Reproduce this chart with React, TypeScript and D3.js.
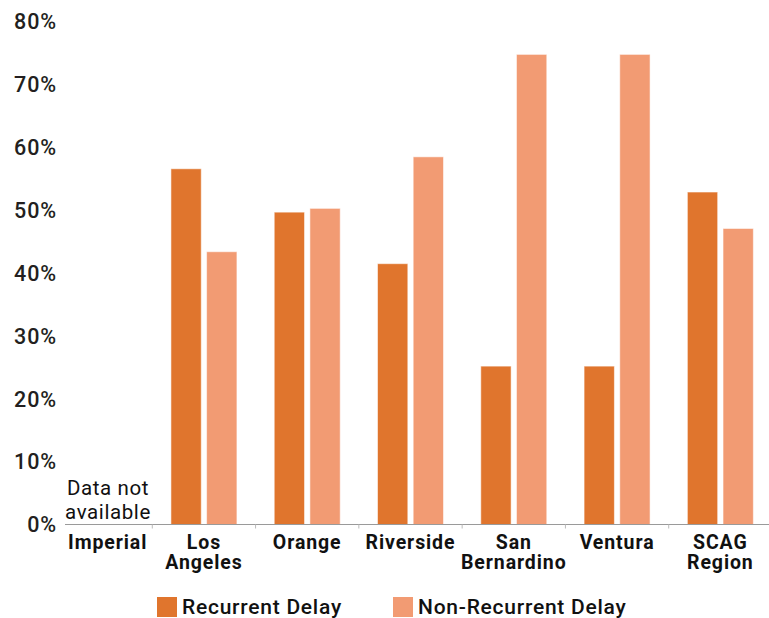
import React from "react";
import * as d3 from "d3";

const categories = ["Imperial", "Los Angeles", "Orange", "Riverside", "San Bernardino", "Ventura", "SCAG Region"];
const categoryLines = [["Imperial"], ["Los", "Angeles"], ["Orange"], ["Riverside"], ["San", "Bernardino"], ["Ventura"], ["SCAG", "Region"]];
const recurrent: (number | null)[] = [null, 56.6, 49.7, 41.5, 25.2, 25.2, 52.9];
const nonRecurrent: (number | null)[] = [null, 43.4, 50.3, 58.5, 74.8, 74.8, 47.1];
const yTicks = [0, 10, 20, 30, 40, 50, 60, 70, 80];
const seriesNames = ["Recurrent Delay", "Non-Recurrent Delay"];
const colors = ["#E0752D", "#F29B73"];

const W = 769;
const H = 618;
const FONT = "Roboto, 'DejaVu Sans', sans-serif";

export default function App() {
  const x = d3.scaleBand<string>().domain(categories).range([49, 772]).padding(0);
  const y = d3.scaleLinear().domain([0, 80]).range([524.5, 21.7]);
  const sub = d3.scaleBand<number>().domain([0, 1]).range([0, 66]).paddingInner(0.15);
  const series = [recurrent, nonRecurrent];

  return (
    <svg width={W} height={H} style={{ position: "absolute", left: 0, top: 0, display: "block" }}>
      <rect width={W} height={H} fill="#fff" />
      {yTicks.map((t) => (
        <text key={t} x={57} y={y(t)} dy="0.36em" textAnchor="end" fontFamily={FONT} fontWeight={500} fontSize={21.5} letterSpacing={0.9} fill="#231f20">
          {t}%
        </text>
      ))}
      {categories.map((c, i) => {
        const cx = (x(c) as number) + x.bandwidth() / 2;
        return series.map((s, si) => {
          const v = s[i];
          if (v == null) return null;
          const bx = cx - 33 + (sub(si) as number);
          return (
            <rect key={c + si} x={bx} y={y(v)} width={sub.bandwidth()} height={y(0) - y(v)} fill={colors[si]} stroke="#fff" strokeOpacity={0.55} strokeWidth={1} />
          );
        });
      })}
      <line x1={65} x2={769} y1={y(0)} y2={y(0)} stroke="#9a9a9a" strokeWidth={1.2} />
      {categories.map((c, i) =>
        i === 0 ? null : (
          <line key={"t" + c} x1={x(c) as number} x2={x(c) as number} y1={y(0)} y2={y(0) + 4} stroke="#bbb" strokeWidth={1} />
        )
      )}
      {categories.map((c, i) => {
        const cx = (x(c) as number) + x.bandwidth() / 2 + (i === 0 ? 7 : 0);
        return (
          <text key={"l" + c} textAnchor="middle" fontFamily={FONT} fontWeight={700} fontSize={19.5} letterSpacing={0.9} fill="#111">
            {categoryLines[i].map((ln, li) => (
              <tspan key={li} x={cx} y={549 + li * 20}>
                {ln}
              </tspan>
            ))}
          </text>
        );
      })}
      <text textAnchor="middle" fontFamily={FONT} fontWeight={400} fontSize={20.5} letterSpacing={0.6} fill="#111">
        <tspan x={108} y={495}>Data not</tspan>
        <tspan x={108} y={519}>available</tspan>
      </text>
      {seriesNames.map((n, i) => {
        const lx = i === 0 ? 157 : 393;
        return (
          <g key={n}>
            <rect x={lx} y={597} width={20} height={20} fill={colors[i]} />
            <text x={lx + 25} y={614} fontFamily={FONT} fontWeight={500} fontSize={21} letterSpacing={0.75} fill="#111">
              {n}
            </text>
          </g>
        );
      })}
    </svg>
  );
}
